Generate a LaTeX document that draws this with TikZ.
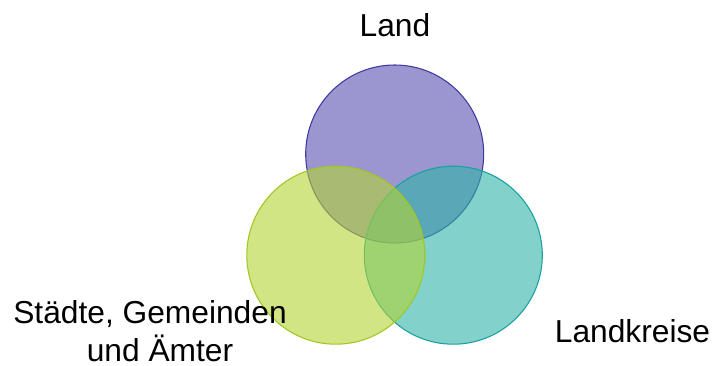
\documentclass[tikz,border=0pt]{standalone}
\usepackage{fontspec}
\setmainfont{Liberation Sans}
\definecolor{topfill}{RGB}{90,80,176}
\definecolor{topline}{RGB}{60,58,160}
\definecolor{leftfill}{RGB}{179,211,52}
\definecolor{leftline}{RGB}{160,200,30}
\definecolor{rightfill}{RGB}{46,178,168}
\definecolor{rightline}{RGB}{26,160,160}
\tikzset{
  setc/.style={circle, inner sep=0pt, minimum size=133.5pt, line width=0.8pt, fill opacity=0.6},
  lab/.style={font=\fontsize{23.8}{28.5}\selectfont, inner sep=0pt, anchor=base, text=black}
}
\begin{document}
\begin{tikzpicture}[x=0.75pt,y=-0.75pt]
\useasboundingbox (0,0) rectangle (716,365);
\node[setc, draw=topline, fill=topfill] (land) at (394.7,154) {};
\node[setc, draw=rightline, fill=rightfill] (kreis) at (453.3,255.2) {};
\node[setc, draw=leftline, fill=leftfill] (stadt) at (335.8,255.2) {};
\node[lab] (tland) at (395,36.7) {Land};
\node[lab] (tstadt1) at (150,323.3) {Städte, Gemeinden};
\node[lab] (tstadt2) at (160,361) {und Ämter};
\node[lab] (tkreis) at (632.5,342.7) {Landkreise};
\end{tikzpicture}
\end{document}
